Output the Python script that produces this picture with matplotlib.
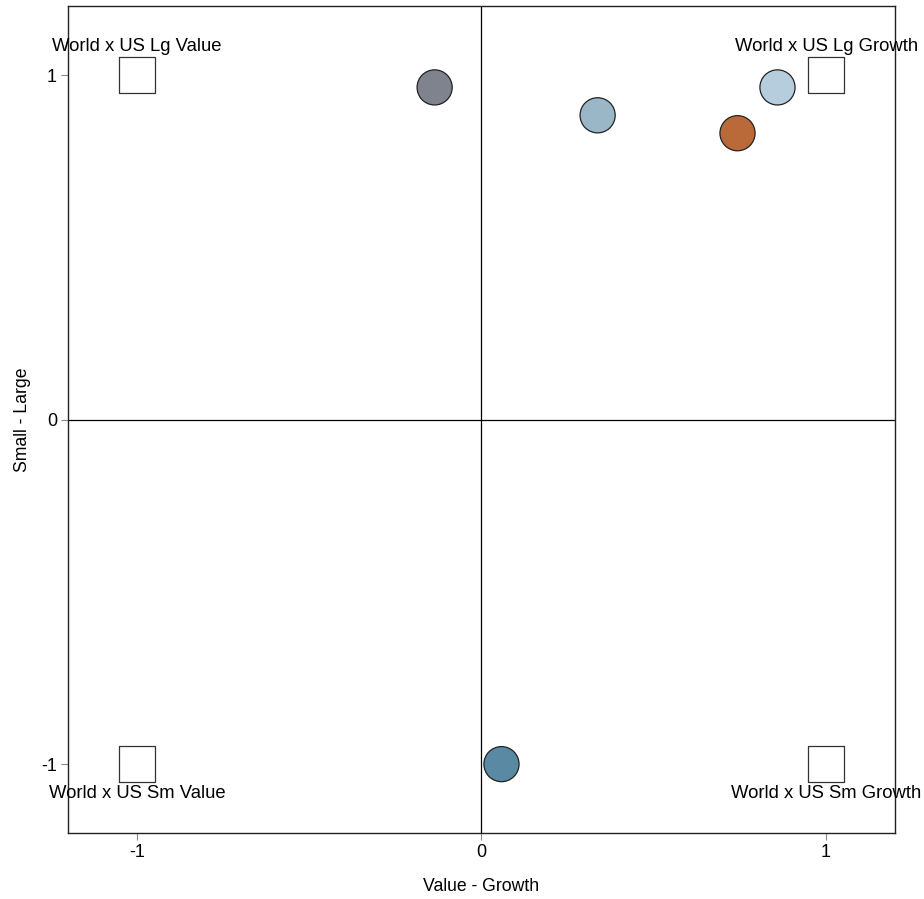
import matplotlib
matplotlib.use("Agg")
import matplotlib.pyplot as plt

plt.rcParams['font.family'] = ['Liberation Sans', 'DejaVu Sans']

# corner benchmarks
corner_x = [-1, 1, -1, 1]
corner_y = [1, 1, -1, -1]
corner_names = ["World x US Lg Value", "World x US Lg Growth",
                "World x US Sm Value", "World x US Sm Growth"]

# fund points
pts_x = [-0.136, 0.337, 0.743, 0.859, 0.058]
pts_y = [0.965, 0.884, 0.832, 0.965, -1.0]
pts_colors = ["#7f838e", "#9ab7c8", "#b96a38", "#b5cddc", "#5a89a3"]

fig = plt.figure(figsize=(9.24, 8.99), dpi=100)
ax = fig.add_axes([0.0736, 0.0734, 0.895, 0.9194])

ax.axhline(0, color="black", lw=0.9, zorder=1)
ax.axvline(0, color="black", lw=0.9, zorder=1)

ax.scatter(corner_x, corner_y, marker="s", s=680, facecolor="white",
           edgecolor="#333333", linewidths=0.9, zorder=2)
for x, y, name in zip(corner_x, corner_y, corner_names):
    if y > 0:
        ax.text(x, y + 0.06, name, ha="center", va="bottom", fontsize=13.3)
    else:
        ax.text(x, y - 0.06, name, ha="center", va="top", fontsize=13.3)

ax.scatter(pts_x, pts_y, s=640, c=pts_colors, edgecolor="#222222",
           linewidths=0.9, zorder=3)

ax.set_xlim(-1.2, 1.2)
ax.set_ylim(-1.2, 1.2)
ax.set_xticks([-1, 0, 1])
ax.set_yticks([-1, 0, 1])
ax.set_xticklabels(["-1", "0", "1"])
ax.set_yticklabels(["-1", "0", "1"])
ax.tick_params(direction="out", length=5, color="#888888", labelsize=13, pad=3)
for sp in ax.spines.values():
    sp.set_linewidth(1.0)
    sp.set_color("#222222")

ax.set_xlabel("Value - Growth", fontsize=12.7)
ax.set_ylabel("Small - Large", fontsize=12.7)
ax.xaxis.set_label_coords(0.5, -0.054)
ax.yaxis.set_label_coords(-0.045, 0.5)

fig.savefig("out.png", dpi=100)
